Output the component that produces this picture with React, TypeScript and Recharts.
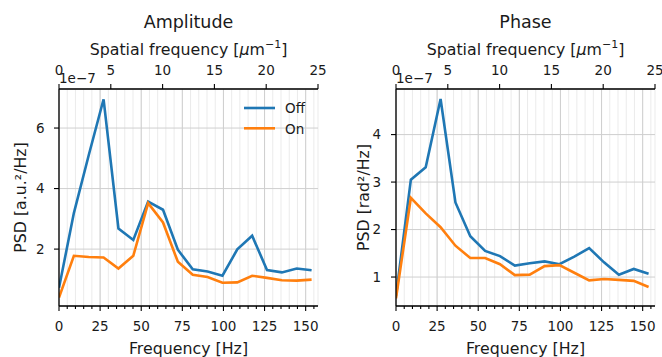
import React from 'react';
import {
  LineChart,
  Line,
  XAxis,
  YAxis,
  CartesianGrid,
  ReferenceLine,
} from 'recharts';

// ---- data (PSD values in units of 1e-7) ----
const freqHz = [0, 9.04, 18.07, 27.11, 36.14, 45.18, 54.21, 63.25, 72.28, 81.32, 90.35, 99.39, 108.42, 117.46, 126.49, 135.53, 144.56, 153.6];
const ampOff = [0.72, 3.19, 5.1, 6.95, 2.68, 2.3, 3.57, 3.3, 1.98, 1.33, 1.26, 1.12, 1.99, 2.44, 1.31, 1.23, 1.36, 1.3];
const ampOn = [0.4, 1.78, 1.74, 1.72, 1.36, 1.78, 3.52, 2.88, 1.58, 1.15, 1.08, 0.89, 0.9, 1.12, 1.05, 0.97, 0.96, 0.99];
const phOff = [0.6, 3.05, 3.31, 4.75, 2.57, 1.86, 1.55, 1.44, 1.24, 1.29, 1.33, 1.27, 1.43, 1.61, 1.31, 1.05, 1.17, 1.07];
const phOn = [0.55, 2.67, 2.34, 2.05, 1.66, 1.4, 1.4, 1.27, 1.04, 1.05, 1.23, 1.25, 1.09, 0.93, 0.96, 0.94, 0.92, 0.79];

const freqTicks = [0, 5, 10, 15, 20, 25, 30, 35, 40, 45, 50, 55, 60, 65, 70, 75, 80, 85, 90, 95, 100, 105, 110, 115, 120, 125, 130, 135, 140, 145, 150, 155];
const freqMajor = [0, 25, 50, 75, 100, 125, 150];
const spatialTicks = [0, 5, 10, 15, 20, 25];
const ampTicks = [2, 4, 6];
const phTicks = [1, 2, 3, 4];
const freqMax = 157.5;
const spatialMax = 25;

const FONT = 'DejaVu Sans, sans-serif';
const BLUE = '#1f77b4';
const ORANGE = '#ff7f0e';
const TXT = '#1a1a1a';

const buildRows = (off: number[], on: number[]) =>
  freqHz.map((f, i) => ({ f, sf: (f * spatialMax) / freqMax, off: off[i], on: on[i] }));

const ampRows = buildRows(ampOff, ampOn);
const phRows = buildRows(phOff, phOn);

const XTick = (props: any) => {
  const { x, y, payload } = props;
  const v = payload.value;
  const major = v % 25 === 0;
  return (
    <g>
      <line x1={x} x2={x} y1={y} y2={y + (major ? 5 : 3)} stroke="#000" strokeWidth={1.1} />
      {major && (
        <text x={x} y={y + 25.2} textAnchor="middle" fontSize={13.5} fontFamily={FONT} fill={TXT}>
          {v}
        </text>
      )}
    </g>
  );
};

type PanelProps = {
  rows: any[];
  yDomain: [number, number];
  yTicks: number[];
  yWidth: number;
  marginRight: number;
  yTickMargin: number;
};

const Panel = ({ rows, yDomain, yTicks, yWidth, marginRight, yTickMargin }: PanelProps) => (
  <LineChart
    width={331}
    height={357}
    data={rows}
    margin={{ top: 0, right: marginRight, bottom: 0, left: 0 }}
  >
    <CartesianGrid
      xAxisId="bottom"
      yAxisId="left"
      horizontal={false}
      vertical={true}
      stroke="#ebebeb"
      strokeWidth={1}
    />
    <CartesianGrid
      xAxisId="bottom"
      yAxisId="left"
      horizontal={true}
      vertical={false}
      stroke="#cfcfcf"
      strokeWidth={1}
    />
    {freqMajor.map((v) => (
      <ReferenceLine key={v} x={v} xAxisId="bottom" yAxisId="left" stroke="#cfcfcf" strokeWidth={1} />
    ))}
    <XAxis
      xAxisId="bottom"
      dataKey="f"
      type="number"
      orientation="bottom"
      domain={[0, freqMax]}
      allowDataOverflow
      ticks={freqTicks}
      interval={0}
      height={51}
      tickSize={0}
      tickMargin={0}
      tickLine={false}
      tick={<XTick />}
      axisLine={{ stroke: '#000', strokeWidth: 1.3 }}
    />
    <XAxis
      xAxisId="top"
      dataKey="sf"
      type="number"
      orientation="top"
      domain={[0, spatialMax]}
      allowDataOverflow
      ticks={spatialTicks}
      interval={0}
      height={89}
      tickSize={5}
      tickMargin={9}
      tickLine={{ stroke: '#000', strokeWidth: 1.1 }}
      tick={{ fontSize: 13.5, fontFamily: FONT, fill: TXT }}
      axisLine={{ stroke: '#000', strokeWidth: 1.3 }}
    />
    <YAxis
      yAxisId="left"
      type="number"
      domain={yDomain}
      allowDataOverflow
      ticks={yTicks}
      interval={0}
      width={yWidth}
      tickSize={5}
      tickMargin={yTickMargin}
      tickLine={{ stroke: '#000', strokeWidth: 1.1 }}
      tick={{ fontSize: 13.5, fontFamily: FONT, fill: TXT }}
      axisLine={{ stroke: '#000', strokeWidth: 1.3 }}
    />
    <YAxis
      yAxisId="right"
      orientation="right"
      type="number"
      domain={yDomain}
      allowDataOverflow
      width={0}
      tick={false}
      tickLine={false}
      axisLine={{ stroke: '#000', strokeWidth: 1.3 }}
    />
    <Line
      xAxisId="bottom"
      yAxisId="left"
      dataKey="off"
      type="linear"
      stroke={BLUE}
      strokeWidth={2.6}
      dot={false}
      isAnimationActive={false}
    />
    <Line
      xAxisId="bottom"
      yAxisId="left"
      dataKey="on"
      type="linear"
      stroke={ORANGE}
      strokeWidth={2.6}
      dot={false}
      isAnimationActive={false}
    />
  </LineChart>
);

const SpatialLabel = ({ cx }: { cx: number }) => (
  <text x={cx} y={54.5} textAnchor="middle" fontSize={15.8} fontFamily={FONT} fill={TXT}>
    Spatial frequency [<tspan fontStyle="italic">μ</tspan>m
    <tspan dy={-6.5} fontSize={11}>−1</tspan>
    <tspan dy={6.5}>]</tspan>
  </text>
);

export default function App() {
  return (
    <div style={{ position: 'absolute', left: 0, top: 0, width: 662, height: 357, background: '#fff', fontFamily: FONT }}>
      <div style={{ position: 'absolute', left: 0, top: 0 }}>
        <Panel rows={ampRows} yDomain={[0.12, 7.29]} yTicks={ampTicks} yWidth={59} marginRight={13} yTickMargin={9.5} />
      </div>
      <div style={{ position: 'absolute', left: 331, top: 0 }}>
        <Panel rows={phRows} yDomain={[0.39, 4.96]} yTicks={phTicks} yWidth={65} marginRight={7} yTickMargin={10} />
      </div>
      <svg width={662} height={357} style={{ position: 'absolute', left: 0, top: 0, pointerEvents: 'none' }}>
        {/* titles */}
        <text x={188.5} y={28} textAnchor="middle" fontSize={17.5} fontFamily={FONT} fill={TXT}>Amplitude</text>
        <text x={525.5} y={28} textAnchor="middle" fontSize={17.5} fontFamily={FONT} fill={TXT}>Phase</text>
        <SpatialLabel cx={188.5} />
        <SpatialLabel cx={525.5} />
        {/* offset text */}
        <text x={59} y={83.3} fontSize={13.5} fontFamily={FONT} fill={TXT}>1e−7</text>
        <text x={396} y={83.3} fontSize={13.5} fontFamily={FONT} fill={TXT}>1e−7</text>
        {/* x labels */}
        <text x={188.5} y={354} textAnchor="middle" fontSize={15.8} fontFamily={FONT} fill={TXT}>Frequency [Hz]</text>
        <text x={525.5} y={354} textAnchor="middle" fontSize={15.8} fontFamily={FONT} fill={TXT}>Frequency [Hz]</text>
        {/* y labels */}
        <text x={25.5} y={197.5} transform="rotate(-90 25.5 197.5)" textAnchor="middle" fontSize={15.8} fontFamily={FONT} fill={TXT}>PSD [a.u.²/Hz]</text>
        <text x={368.5} y={197.5} transform="rotate(-90 368.5 197.5)" textAnchor="middle" fontSize={15.8} fontFamily={FONT} fill={TXT}>PSD [rad²/Hz]</text>
        {/* legend */}
        <line x1={244} x2={275} y1={108} y2={108} stroke={BLUE} strokeWidth={2.6} />
        <line x1={244} x2={275} y1={128.3} y2={128.3} stroke={ORANGE} strokeWidth={2.6} />
        <text x={285} y={113.3} fontSize={13.5} fontFamily={FONT} fill={TXT}>Off</text>
        <text x={285} y={133.5} fontSize={13.5} fontFamily={FONT} fill={TXT}>On</text>
      </svg>
    </div>
  );
}
